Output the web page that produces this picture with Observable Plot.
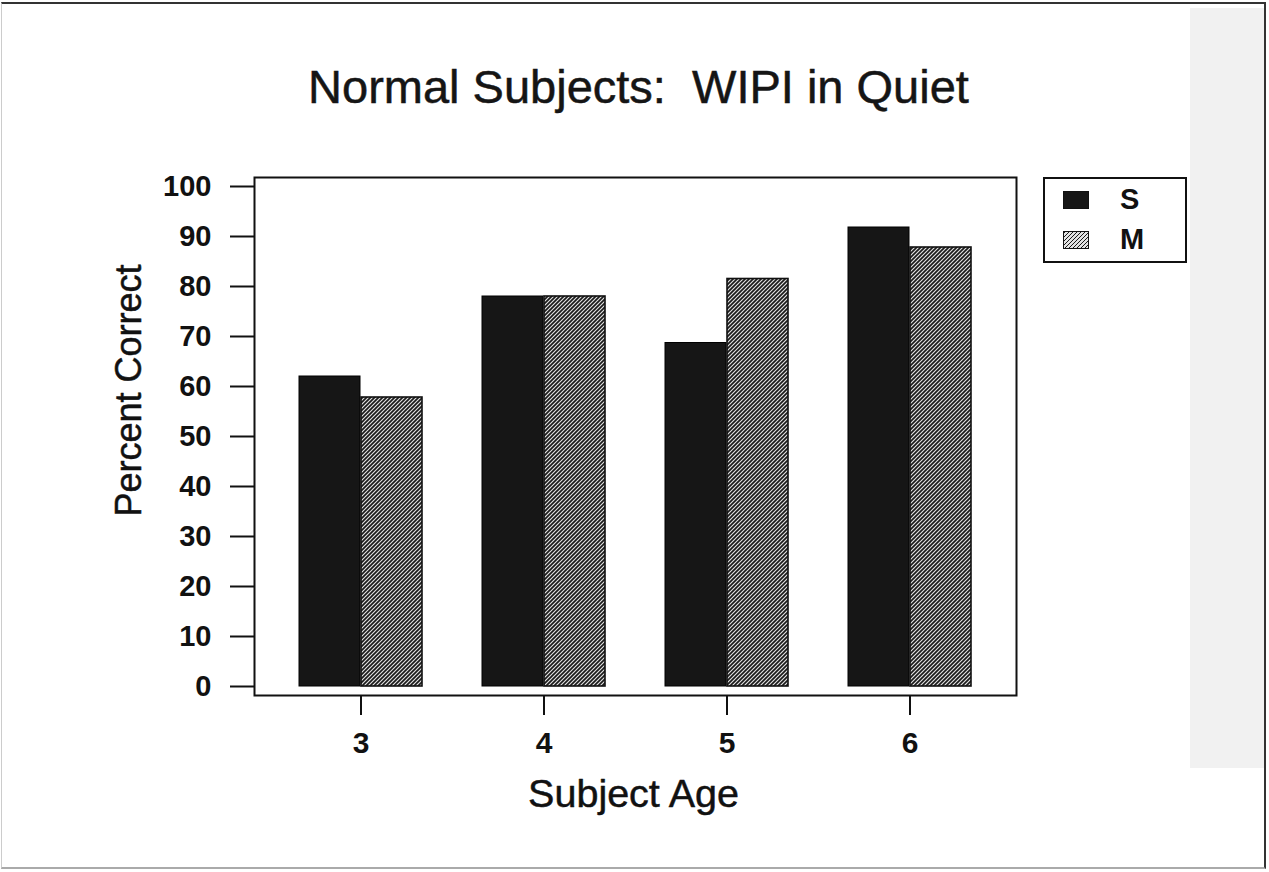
<!DOCTYPE html>
<html>
<head>
<meta charset="utf-8">
<script src="https://cdn.jsdelivr.net/npm/d3@7"></script>
<script src="https://cdn.jsdelivr.net/npm/@observablehq/plot@0.6"></script>
<style>
  html, body { margin: 0; padding: 0; background: #fff; }
  #page { position: relative; width: 1269px; height: 872px; overflow: hidden; background: #fff;
          font-family: "Liberation Sans", Arial, Helvetica, sans-serif; color: #111; }
  #border { position: absolute; left: 1px; top: 2px; width: 1265px; height: 867px;
            border-top: 2px solid #333; border-right: 2px solid #333; border-left: 1px solid #ccc;
            border-bottom: 2px solid #aaa; box-sizing: border-box; }
  #strip { position: absolute; left: 1190px; top: 8px; width: 75px; height: 760px; background: #f1f1f1; }
  #title { position: absolute; left: 4px; top: 64px; width: 1269px; text-align: center;
           font-size: 47px; line-height: 46px; white-space: pre; color: #151515;
           -webkit-text-stroke: 0.5px #151515; }
  #chart { position: absolute; left: 0; top: 120px; }
  #legend { position: absolute; left: 1043px; top: 177px; width: 144px; height: 86px;
            border: 2px solid #111; box-sizing: border-box; background: #fff; }
  .sw { position: absolute; left: 18px; width: 26px; height: 18px; border: 1px solid #111; box-sizing: border-box; }
  .lt { position: absolute; left: 75px; font-weight: bold; font-size: 29px; line-height: 29px; color: #111; }
</style>
</head>
<body>
<div id="page">
  <div id="strip"></div>
  <div id="border"></div>
  <div id="title"></div>
  <div id="chart"></div>
  <div id="legend"></div>
</div>
<script>
// ---- data ----
const titleText = "Normal Subjects:  WIPI in Quiet";
const xLabel = "Subject Age";
const yLabel = "Percent Correct";
const ages = [3, 4, 5, 6];
const seriesNames = ["S", "M"];
const sValues = [62, 78, 68.7, 91.8];
const mValues = [57.8, 78, 81.5, 87.8];
const yTicks = [0, 10, 20, 30, 40, 50, 60, 70, 80, 90, 100];

const sData = ages.map((a, i) => ({age: a, series: seriesNames[0], value: sValues[i]}));
const mData = ages.map((a, i) => ({age: a, series: seriesNames[1], value: mValues[i]}));

document.getElementById("title").textContent = titleText;

const fillRange = ["#161616", "url(#hatch)"];

const svg = Plot.plot({
  width: 1269,
  height: 752,
  marginTop: 57,
  marginBottom: 177,
  marginLeft: 254,
  marginRight: 253,
  style: {fontFamily: "'Liberation Sans', Arial, Helvetica, sans-serif", color: "#111", background: "transparent", overflow: "visible"},
  x: {type: "band", domain: ages, paddingInner: 0.326, paddingOuter: 0.234, align: 0.5},
  y: {domain: [0, 100], insetTop: 9, insetBottom: 9},
  color: {type: "ordinal", domain: seriesNames, range: fillRange},
  marks: [
    Plot.barY(sData, {x: "age", y: "value", fill: "series", stroke: "#000", strokeWidth: 1, insetRight: 62}),
    Plot.barY(mData, {x: "age", y: "value", fill: "series", stroke: "#111", strokeWidth: 1.6, insetLeft: 62}),
    Plot.frame({stroke: "#111", strokeWidth: 2}),
    Plot.axisY({ticks: yTicks, tickSize: 24, tickPadding: 19, strokeWidth: 2, fontSize: 29, fontWeight: "bold", label: null}),
    Plot.axisX({tickSize: 20, tickPadding: 16, strokeWidth: 2, fontSize: 30, fontWeight: "bold", label: null}),
    Plot.text([xLabel], {text: d => d, frameAnchor: "bottom", textAnchor: "middle", lineAnchor: "middle",
      dx: -2, dy: 99, fontSize: 39.5, fill: "#111", stroke: "#111", strokeWidth: 0.5}),
    Plot.text([yLabel], {text: d => d, frameAnchor: "left", textAnchor: "middle", lineAnchor: "middle",
      rotate: -90, dx: -125, dy: -46, fontSize: 36, fill: "#111", stroke: "#111", strokeWidth: 0.5})
  ]
});

// hatch pattern definition
const defs = d3.select(svg).insert("defs", ":first-child");
const pat = defs.append("pattern").attr("id", "hatch").attr("patternUnits", "userSpaceOnUse")
  .attr("width", 4).attr("height", 4);
pat.append("rect").attr("width", 4).attr("height", 4).attr("fill", "#e2e2e2");
pat.append("path").attr("d", "M-1,1 l2,-2 M0,4 l4,-4 M3,5 l2,-2").attr("stroke", "#1a1a1a").attr("stroke-width", 1.7);

document.getElementById("chart").appendChild(svg);

// legend
const legend = document.getElementById("legend");
const legendSwatches = [
  {top: 12, bg: fillRange[0]},
  {top: 52, bg: "repeating-linear-gradient(135deg, #1a1a1a 0px, #1a1a1a 1.4px, #e2e2e2 1.4px, #e2e2e2 2.83px)"}
];
seriesNames.forEach((name, i) => {
  const sw = document.createElement("div");
  sw.className = "sw";
  sw.style.top = legendSwatches[i].top + "px";
  sw.style.background = legendSwatches[i].bg;
  legend.appendChild(sw);
  const t = document.createElement("div");
  t.className = "lt";
  t.style.top = (legendSwatches[i].top - 6) + "px";
  t.textContent = name;
  legend.appendChild(t);
});
</script>
</body>
</html>
